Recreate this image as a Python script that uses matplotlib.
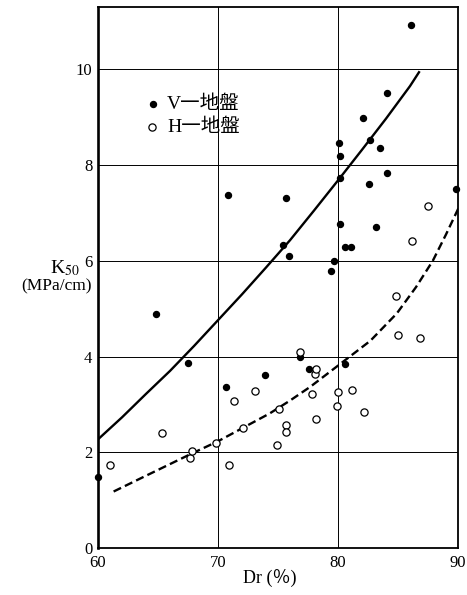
import numpy as np
import matplotlib.pyplot as plt

plt.rcParams['font.family'] = ['Liberation Serif', 'Noto Sans CJK JP']
plt.rcParams['mathtext.fontset'] = 'stix'

# V-ground (filled dots)
v_dr = [60.0, 64.8, 67.5, 70.7, 70.8, 73.9, 75.4, 75.7, 75.9, 76.8, 77.6, 79.4, 79.7,
        80.1, 80.2, 80.2, 80.2, 80.6, 81.1, 80.6, 82.1, 82.6, 82.7, 83.2, 83.5, 84.1,
        84.1, 86.1, 89.8]
v_k50 = [1.48, 4.89, 3.87, 3.37, 7.38, 3.61, 6.32, 7.32, 6.10, 3.98, 3.73, 5.78, 5.99,
         8.46, 8.20, 7.72, 6.76, 6.28, 6.28, 3.85, 8.98, 7.61, 8.52, 6.71, 8.35, 9.50,
         7.84, 10.92, 7.49]

# H-ground (open circles)
h_dr = [61.0, 65.3, 67.7, 67.8, 69.8, 70.9, 71.3, 72.1, 73.1, 74.9, 75.1, 75.7, 75.7,
        76.8, 77.8, 78.1, 78.2, 78.2, 79.9, 80.0, 81.2, 82.2, 84.8, 85.0, 86.2, 86.8, 87.5]
h_k50 = [1.73, 2.41, 1.89, 2.03, 2.19, 1.73, 3.08, 2.51, 3.29, 2.16, 2.90, 2.58, 2.43,
         4.10, 3.22, 3.63, 3.75, 2.69, 2.97, 3.26, 3.30, 2.85, 5.27, 4.44, 6.42, 4.39, 7.15]

# trend curves
v_curve_dr = [60, 62, 64, 66, 68, 70, 72, 74, 76, 78, 80, 82, 84, 86, 86.75]
v_curve_k = [2.27, 2.73, 3.22, 3.70, 4.22, 4.76, 5.30, 5.86, 6.43, 7.05, 7.68, 8.32, 8.97, 9.65, 9.94]

h_curve_dr = [61.3, 64, 67.7, 70, 72, 74.3, 76, 77.7, 80, 82.7, 84.9, 86.5, 87.9, 89, 90.06]
h_curve_k = [1.18, 1.51, 1.96, 2.23, 2.50, 2.81, 3.08, 3.37, 3.81, 4.33, 4.90, 5.45, 6.00, 6.55, 7.11]

fig = plt.figure(figsize=(4.67, 5.95), dpi=100)
ax = fig.add_axes([0.2099, 0.079, 0.7708, 0.909])

ax.set_xlim(60, 90)
ax.set_ylim(0, 11.3)
ax.set_xticks([60, 70, 80, 90])
ax.set_yticks([0, 2, 4, 6, 8, 10])
ax.tick_params(length=0, labelsize=12)
ax.tick_params(axis='x', pad=5)
ax.tick_params(axis='y', pad=4)
for y in [2, 4, 6, 8, 10]:
    ax.axhline(y, color='black', lw=0.7, zorder=1)
for x in [70, 80]:
    ax.axvline(x, color='black', lw=0.7, zorder=1)

for side in ['top', 'right', 'bottom']:
    ax.spines[side].set_linewidth(1.3)
ax.spines['left'].set_linewidth(1.9)

ax.plot(v_curve_dr, v_curve_k, color='black', lw=1.7, zorder=2)
ax.plot(h_curve_dr, h_curve_k, color='black', lw=1.7, dashes=(3.5, 1.8), zorder=2)

ax.plot(v_dr, v_k50, 'o', color='black', ms=4.3, zorder=3, clip_on=False)
ax.plot(h_dr, h_k50, 'o', mfc='white', mec='black', ms=5.2, mew=0.9, zorder=3, clip_on=False)

# legend drawn by hand
ax.plot([0.153], [0.821], 'o', color='black', ms=4.3, transform=ax.transAxes)
ax.plot([0.150], [0.778], 'o', mfc='white', mec='black', ms=5.2, mew=0.9, transform=ax.transAxes)
ax.text(0.192, 0.821, 'V一地盤', transform=ax.transAxes, va='center', ha='left', fontsize=14)
ax.text(0.192, 0.778, 'H一地盤', transform=ax.transAxes, va='center', ha='left', fontsize=14)

fig.text(0.139, 0.55, 'K$_{50}$', ha='center', va='center', fontsize=14)
fig.text(0.122, 0.519, '(MPa/cm)', ha='center', va='center', fontsize=12.5)
fig.text(0.578, 0.029, 'Dr (％)', ha='center', va='center', fontsize=13)

fig.savefig('out.png', dpi=100)
